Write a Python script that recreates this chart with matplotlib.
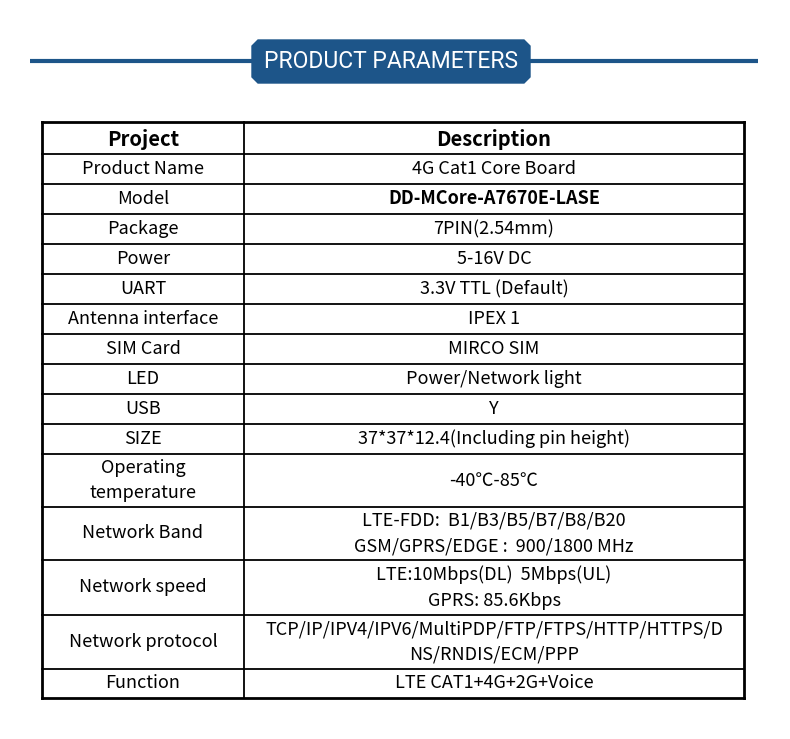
import matplotlib.pyplot as plt
from matplotlib.patches import Polygon

plt.rcParams['font.family'] = ['Noto Sans CJK SC', 'DejaVu Sans']

# table content
headers = ['Project', 'Description']
projects = ['Product Name', 'Model', 'Package', 'Power', 'UART', 'Antenna interface',
            'SIM Card', 'LED', 'USB', 'SIZE', 'Operating\ntemperature', 'Network Band',
            'Network speed', 'Network protocol', 'Function']
descriptions = ['4G Cat1 Core Board', 'DD-MCore-A7670E-LASE', '7PIN(2.54mm)', '5-16V DC',
                '3.3V TTL (Default)', 'IPEX 1', 'MIRCO SIM', 'Power/Network light', 'Y',
                '37*37*12.4(Including pin height)', '-40℃-85℃',
                'LTE-FDD:  B1/B3/B5/B7/B8/B20\nGSM/GPRS/EDGE :  900/1800 MHz',
                'LTE:10Mbps(DL)  5Mbps(UL)\nGPRS: 85.6Kbps',
                'TCP/IP/IPV4/IPV6/MultiPDP/FTP/FTPS/HTTP/HTTPS/D\nNS/RNDIS/ECM/PPP',
                'LTE CAT1+4G+2G+Voice']
row_edges = [122, 154, 184, 214, 244, 274, 304, 334, 364, 394, 424, 454,
             507, 560, 615, 669, 698]

fig = plt.figure(figsize=(7.9, 7.39), dpi=100)
ax = fig.add_axes([0, 0, 1, 1])
ax.set_xlim(0, 790)
ax.set_ylim(739, 0)
ax.axis('off')

blue = '#1d5589'
# title banner
ax.plot([30, 758], [61, 61], color=blue, lw=3, solid_capstyle='butt')
bx0, bx1, by0, by1, c = 252, 530, 40, 83, 6
ax.add_patch(Polygon([(bx0 + c, by0), (bx1 - c, by0), (bx1, by0 + c), (bx1, by1 - c),
                      (bx1 - c, by1), (bx0 + c, by1), (bx0, by1 - c), (bx0, by0 + c)],
                     closed=True, color=blue))
ax.text((bx0 + bx1) / 2, 62, 'PRODUCT PARAMETERS', color='white', fontsize=16.5,
        ha='center', va='center', family=['Liberation Sans Narrow', 'Roboto', 'DejaVu Sans'])

x0, xm, x1 = 42, 244, 744
lw = 1.3
for y in row_edges:
    ax.plot([x0, x1], [y, y], color='black', lw=lw if y not in (122, 698) else 2)
for x in (x0, xm, x1):
    ax.plot([x, x], [row_edges[0], row_edges[-1]], color='black', lw=2 if x != xm else lw)

fs = 13
ax.text((x0 + xm) / 2, 140, headers[0], fontsize=14.5, fontweight='bold', ha='center', va='center')
ax.text((xm + x1) / 2, 140, headers[1], fontsize=14.5, fontweight='bold', ha='center', va='center')
for i, (p, d) in enumerate(zip(projects, descriptions)):
    yc = (row_edges[i + 1] + row_edges[i + 2]) / 2
    ax.text((x0 + xm) / 2, yc, p, fontsize=fs, ha='center', va='center', linespacing=1.55)
    ax.text((xm + x1) / 2, yc, d, fontsize=fs, ha='center', va='center', linespacing=1.55,
            fontweight='bold' if p == 'Model' else 'normal')

fig.savefig('out.png', dpi=100)
